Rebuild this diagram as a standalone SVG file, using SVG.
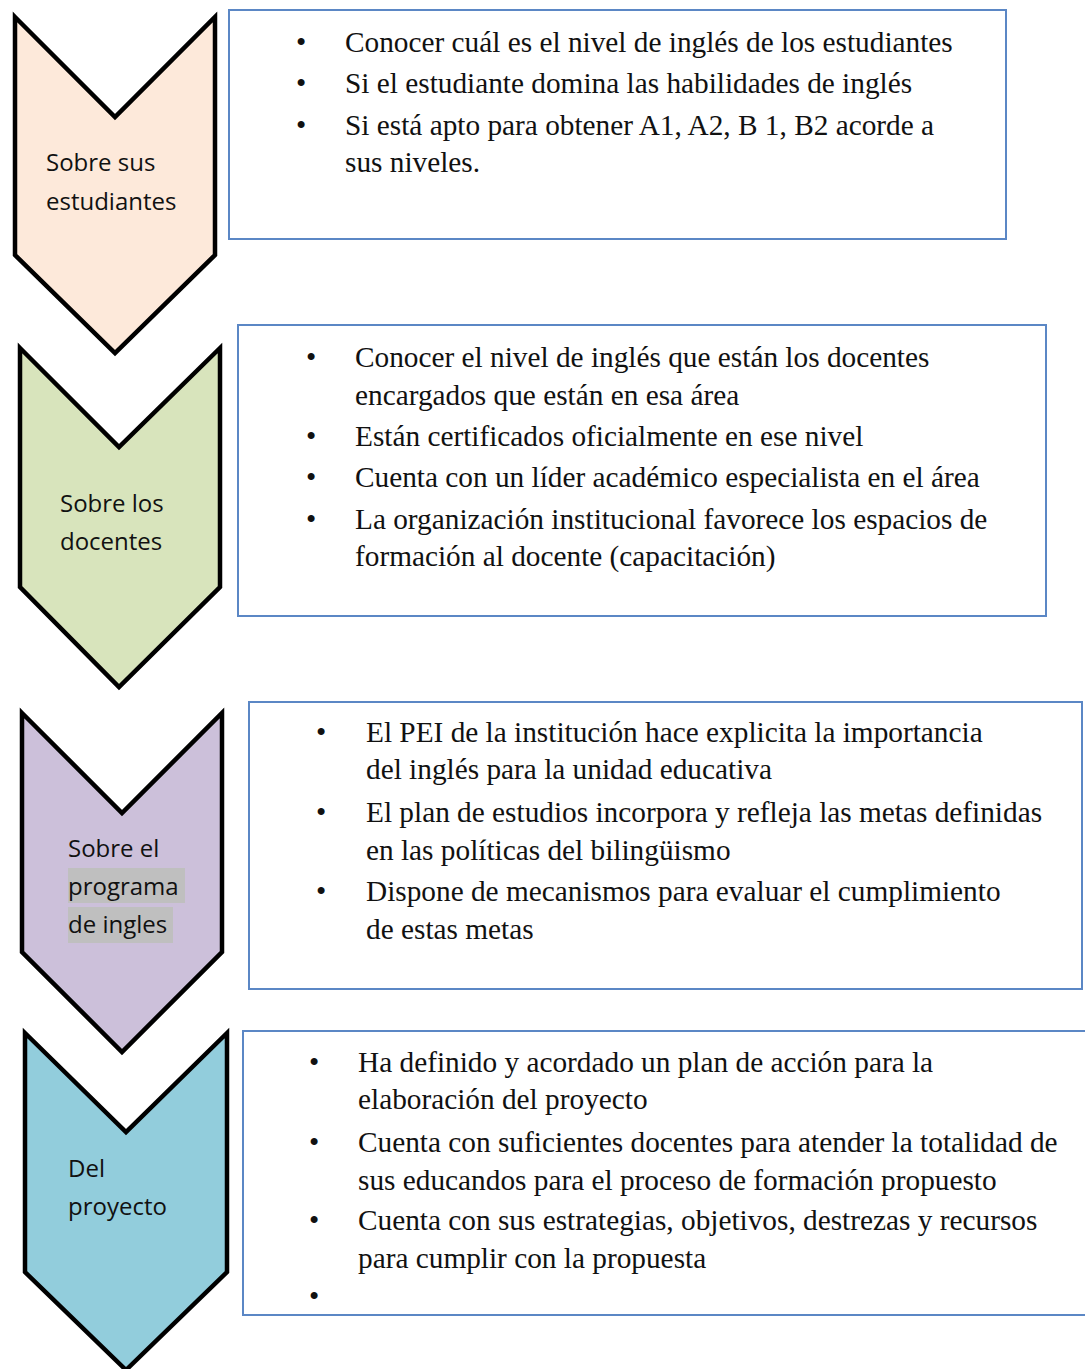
<svg xmlns="http://www.w3.org/2000/svg" width="1085" height="1369" viewBox="0 0 1085 1369">
<style>
.chev{stroke:#000;stroke-width:4.5;stroke-linejoin:miter}
.box{fill:#fff;stroke:#5b87c5;stroke-width:2}
.lbl{font-family:"Open Sans","Noto Sans",sans-serif;font-size:24px;fill:#111}
.t{font-family:"Liberation Serif","Times New Roman",serif;font-size:29.3px;fill:#111}
.hl{fill:#bfbfbf}
</style>
<rect width="1085" height="1369" fill="#fff"/>
<g id="n1">
<polygon class="chev" fill="#fde9da" points="15,17 115,117 215,17 215,255 115,353 15,255"/>
<text class="lbl" x="46" y="171">Sobre sus</text>
<text class="lbl" x="46" y="210">estudiantes</text>
</g>
<g id="b1">
<rect class="box" x="229" y="10" width="777" height="229"/>
<text class="t" x="296" y="52">•</text><text class="t" x="345" y="52">Conocer cuál es el nivel de inglés de los estudiantes</text>
<text class="t" x="296" y="93">•</text><text class="t" x="345" y="93">Si el estudiante domina las habilidades de inglés</text>
<text class="t" x="296" y="135">•</text><text class="t" x="345" y="135">Si está apto para obtener A1, A2, B 1, B2 acorde a</text>
<text class="t" x="345" y="172">sus niveles.</text>
</g>
<g id="n2">
<polygon class="chev" fill="#d8e4bc" points="20,348 119,447 220,348 220,587 119,687 20,587"/>
<text class="lbl" x="60" y="512">Sobre los</text>
<text class="lbl" x="60" y="550">docentes</text>
</g>
<g id="b2">
<rect class="box" x="238" y="325" width="808" height="291"/>
<text class="t" x="306" y="367">•</text><text class="t" x="355" y="367">Conocer el nivel de inglés que están los docentes</text>
<text class="t" x="355" y="405">encargados que están en esa área</text>
<text class="t" x="306" y="446">•</text><text class="t" x="355" y="446">Están certificados oficialmente en ese nivel</text>
<text class="t" x="306" y="487">•</text><text class="t" x="355" y="487">Cuenta con un líder académico especialista en el área</text>
<text class="t" x="306" y="529">•</text><text class="t" x="355" y="529">La organización institucional favorece los espacios de</text>
<text class="t" x="355" y="566">formación al docente (capacitación)</text>
</g>
<g id="n3">
<polygon class="chev" fill="#ccc0da" points="22,713 122,813 222,713 222,952 122,1052 22,952"/>
<rect class="hl" x="68" y="868" width="117" height="35"/>
<rect class="hl" x="68" y="907" width="105" height="36"/>
<text class="lbl" x="68" y="857">Sobre el</text>
<text class="lbl" x="68" y="895">programa</text>
<text class="lbl" x="68" y="933">de ingles</text>
</g>
<g id="b3">
<rect class="box" x="249" y="702" width="833" height="287"/>
<text class="t" x="316" y="742">•</text><text class="t" x="366" y="742">El PEI de la institución hace explicita la importancia</text>
<text class="t" x="366" y="779">del inglés para la unidad educativa</text>
<text class="t" x="316" y="822">•</text><text class="t" x="366" y="822">El plan de estudios incorpora y refleja las metas definidas</text>
<text class="t" x="366" y="860">en las políticas del bilingüismo</text>
<text class="t" x="316" y="901">•</text><text class="t" x="366" y="901">Dispone de mecanismos para evaluar el cumplimiento</text>
<text class="t" x="366" y="939">de estas metas</text>
</g>
<g id="n4">
<polygon class="chev" fill="#92cddc" points="25,1033 126,1132 227,1033 227,1272 126,1370 25,1272"/>
<text class="lbl" x="68" y="1177">Del</text>
<text class="lbl" x="68" y="1215">proyecto</text>
</g>
<g id="b4">
<rect class="box" x="243" y="1031" width="850" height="284"/>
<text class="t" x="309" y="1072">•</text><text class="t" x="358" y="1072">Ha definido y acordado un plan de acción para la</text>
<text class="t" x="358" y="1109">elaboración del proyecto</text>
<text class="t" x="309" y="1152">•</text><text class="t" x="358" y="1152">Cuenta con suficientes docentes para atender la totalidad de</text>
<text class="t" x="358" y="1190">sus educandos para el proceso de formación propuesto</text>
<text class="t" x="309" y="1230">•</text><text class="t" x="358" y="1230">Cuenta con sus estrategias, objetivos, destrezas y recursos</text>
<text class="t" x="358" y="1268">para cumplir con la propuesta</text>
<text class="t" x="309" y="1306">•</text>
</g>
<g id="connectors"></g>
</svg>
